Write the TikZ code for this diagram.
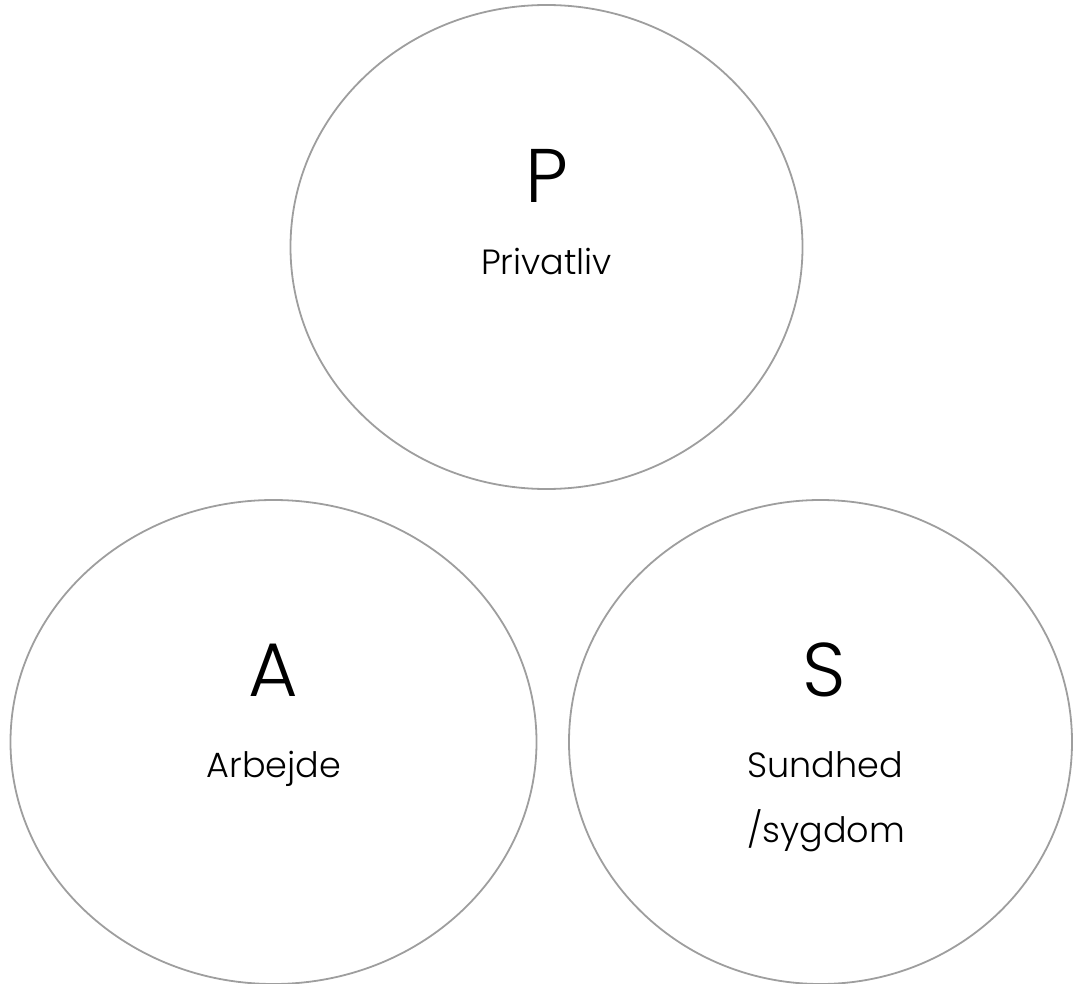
\documentclass[tikz,border=0pt]{standalone}
\usepackage{fontspec}
\setmainfont{Poppins}
\newfontfamily\duenn{Poppins}[UprightFont=* Light]
\usetikzlibrary{positioning,shapes.geometric}
\tikzset{
  omraade/.style={
      draw=black!38,
      line width=1.8pt,
      ellipse,
      inner sep=0pt,
  },
  bogstav/.style={
      anchor=base,
      font=\duenn\fontsize{76}{76}\selectfont,
  },
  tekst/.style={
      anchor=base,
      font=\duenn\fontsize{35}{35}\selectfont,
  },
}
\begin{document}
\begin{tikzpicture}[x=1pt,y=-1pt]
  \useasboundingbox (0,0) rectangle (1073,984);

  \node[omraade, minimum width=512pt, minimum height=484pt] (privat) at (546.5,247) {};
  \node[omraade, minimum width=526pt, minimum height=484pt] (arbejde) at (273.5,742) {};
  \node[omraade, minimum width=503pt, minimum height=484pt] (sundhed) at (820.5,742) {};

  \node[bogstav] (lp) at (546.5,203) {P};
  \node[tekst] (tp) at (546.5,275) {Privatliv};

  \node[bogstav] (la) at (273,696) {A};
  \node[tekst] (ta) at (274,777) {Arbejde};

  \node[bogstav] (ls) at (824,696) {S};
  \node[tekst] (ts1) at (825,777) {Sundhed};
  \node[tekst] (ts2) at (826,842) {/sygdom};
\end{tikzpicture}
\end{document}
